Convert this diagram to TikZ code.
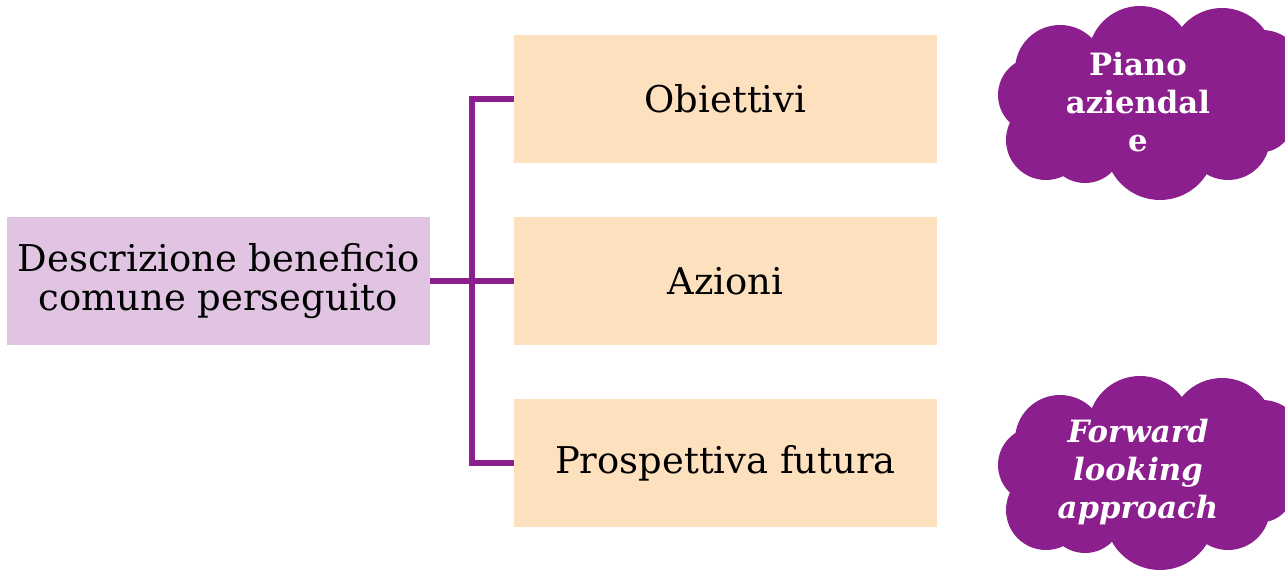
\documentclass[tikz,border=0pt]{standalone}
\usepackage{fontspec}
\setmainfont{DejaVu Serif}
\definecolor{lilac}{HTML}{E1C4E1}
\definecolor{peach}{HTML}{FDE1BF}
\definecolor{plum}{HTML}{8B1F8D}
\tikzset{
  leftbox/.style={fill=lilac, minimum width=8.46cm, minimum height=2.58cm, inner sep=0pt, align=center, font=\fontsize{21}{22.5}\selectfont},
  rbox/.style={fill=peach, minimum width=8.46cm, minimum height=2.56cm, inner sep=0pt, align=center, font=\fontsize{21}{22.5}\selectfont},
  conn/.style={draw=plum, line width=3.2pt, line join=miter},
  cloudfill/.style={fill=plum},
  cloudtext/.style={text=white, align=center, font=\fontsize{17.5}{21.5}\selectfont\bfseries, inner sep=0pt}
}
\newcommand{\cloudshape}{%
  \fill[cloudfill] (1060,70) circle (45);
  \fill[cloudfill] (1140,58) circle (52);
  \fill[cloudfill] (1222,60) circle (52);
  \fill[cloudfill] (1262,72) circle (42);
  \fill[cloudfill] (1280,100) circle (42);
  \fill[cloudfill] (1036,95) circle (38);
  \fill[cloudfill] (1046,140) circle (40);
  \fill[cloudfill] (1085,145) circle (38);
  \fill[cloudfill] (1160,145) circle (55);
  \fill[cloudfill] (1228,138) circle (42);
  \fill[cloudfill] (1262,122) circle (30);
  \fill[cloudfill] (1150,105) ellipse (110 and 70);
}
\begin{document}
\begin{tikzpicture}[x=0.02cm, y=-0.02cm]
\useasboundingbox (0,0) rectangle (1285,570);
\clip (0,0) rectangle (1285,570);
\node[leftbox] (desc) at (218.5,281) {Descrizione beneficio\\comune perseguito};
\node[rbox] (obj) at (725.5,99) {Obiettivi};
\node[rbox] (az) at (725.5,281) {Azioni};
\node[rbox] (pf) at (725.5,463) {Prospettiva futura};
\coordinate (j) at (472,281);
\draw[conn] (desc.east) -- (az.west);
\draw[conn] (obj.west) -- (obj.west -| j) -- (pf.west -| j) -- (pf.west);
\begin{scope}
  \cloudshape
\end{scope}
\begin{scope}[yshift=-370*0.02cm]
  \cloudshape
\end{scope}
\node[cloudtext] (piano) at (1138,102) {Piano\\aziendal\\e};
\node[cloudtext, font=\fontsize{17.5}{21.5}\selectfont\bfseries\itshape] (fwd) at (1138,472) {Forward\\looking\\approach};
\end{tikzpicture}
\end{document}
